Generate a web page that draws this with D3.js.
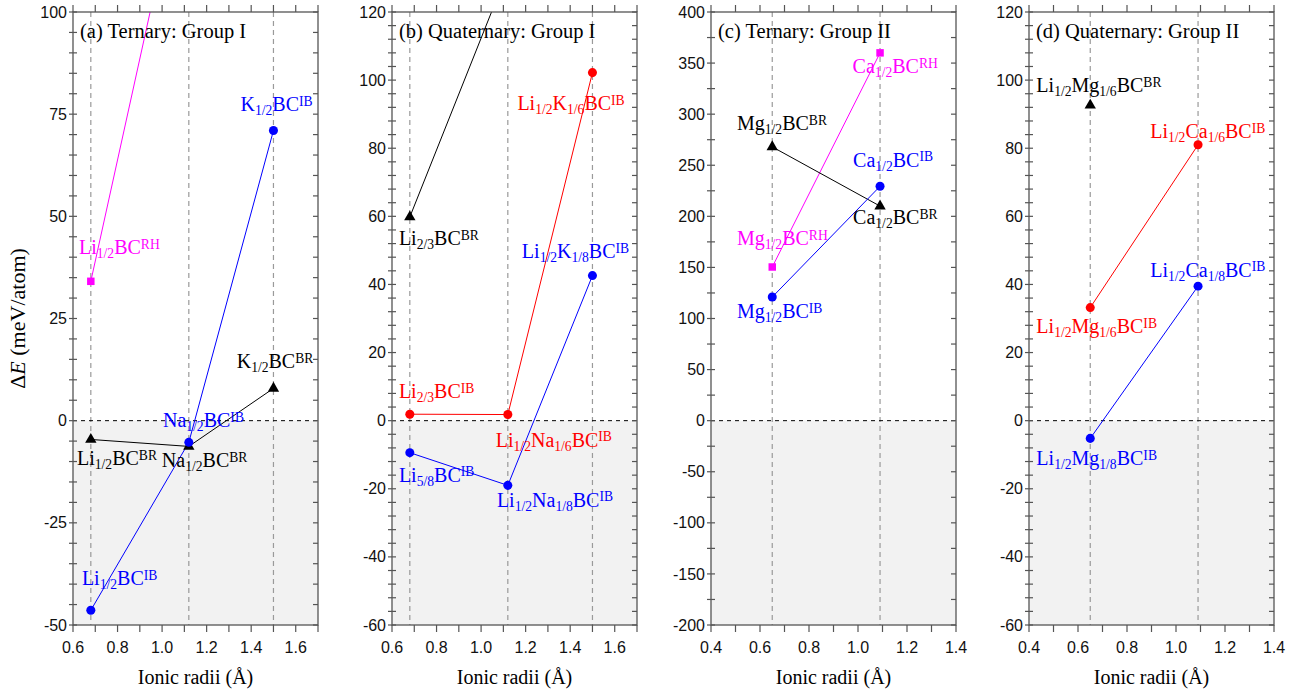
<!DOCTYPE html>
<html>
<head>
<meta charset="utf-8">
<script src="https://cdn.jsdelivr.net/npm/d3@7"></script>
<style>
  body { margin: 0; background: #fff; }
</style>
</head>
<body>
<script>
// ionic radii (Å) of the metals
var radiiGroupI = [0.68, 1.12, 1.50];   // Li, Na, K
var radiiGroupII = [0.65, 1.09];        // Mg, Ca

// (a) Ternary: Group I, formation energy difference in meV/atom (Li, Na, K)
var aIB = [-46.4, -5.3, 71.0];
var aBR = [-4.6, -6.3, 7.9];
var aRH = [34.1, 143];          // Na point is above the frame

// (b) Quaternary: Group I (Li, Na, K)
var bRed = [1.9, 1.8, 102.2];   // Li2/3BC, Li1/2Na1/6BC, Li1/2K1/6BC
var bBlue = [-9.4, -19.0, 42.6];// Li5/8BC, Li1/2Na1/8BC, Li1/2K1/8BC
var bBR = [59.8, 132];          // Na point is above the frame

// (c) Ternary: Group II (Mg, Ca)
var cRH = [150.4, 360];
var cBR = [268, 210];
var cIB = [121, 229.4];

// (d) Quaternary: Group II (Mg, Ca)
var dBR = [92.6];
var dRed = [33.2, 81.0];
var dBlue = [-5.2, 39.5];

// annotation text with anchor in data units
var aLabels = [
  ["Li_{1/2}BC^{RH}", 0.627, 40.7, "magenta"],
  ["K_{1/2}BC^{IB}", 1.352, 75.7, "blue"],
  ["K_{1/2}BC^{BR}", 1.335, 12.8, "black"],
  ["Na_{1/2}BC^{IB}", 1.004, -1.6, "blue"],
  ["Li_{1/2}BC^{BR}", 0.618, -10.9, "black"],
  ["Na_{1/2}BC^{BR}", 0.999, -11.4, "black"],
  ["Li_{1/2}BC^{IB}", 0.640, -40.3, "blue"]
];
var bLabels = [
  ["Li_{1/2}K_{1/6}BC^{IB}", 1.163, 91.1, "red"],
  ["Li_{2/3}BC^{BR}", 0.631, 51.5, "black"],
  ["Li_{1/2}K_{1/8}BC^{IB}", 1.183, 47.7, "blue"],
  ["Li_{2/3}BC^{IB}", 0.631, 6.6, "red"],
  ["Li_{1/2}Na_{1/6}BC^{IB}", 1.066, -7.7, "red"],
  ["Li_{5/8}BC^{IB}", 0.631, -18.0, "blue"],
  ["Li_{1/2}Na_{1/8}BC^{IB}", 1.071, -25.3, "blue"]
];
var cLabels = [
  ["Ca_{1/2}BC^{RH}", 0.978, 340, "magenta"],
  ["Mg_{1/2}BC^{BR}", 0.506, 284.2, "black"],
  ["Ca_{1/2}BC^{IB}", 0.980, 248.3, "blue"],
  ["Ca_{1/2}BC^{BR}", 0.980, 192.2, "black"],
  ["Mg_{1/2}BC^{RH}", 0.506, 171.7, "magenta"],
  ["Mg_{1/2}BC^{IB}", 0.506, 100.2, "blue"]
];
var dLabels = [
  ["Li_{1/2}Mg_{1/6}BC^{BR}", 0.430, 96.5, "black"],
  ["Li_{1/2}Ca_{1/6}BC^{IB}", 0.895, 83.0, "red"],
  ["Li_{1/2}Ca_{1/8}BC^{IB}", 0.895, 42.2, "blue"],
  ["Li_{1/2}Mg_{1/6}BC^{IB}", 0.430, 25.6, "red"],
  ["Li_{1/2}Mg_{1/8}BC^{IB}", 0.430, -13.1, "blue"]
];

var panels = [
  { title: "(a) Ternary: Group I", left: 73, xDom: [0.6, 1.7], yDom: [-50, 100], yMajor: 25, yMinor: 5,
    radii: radiiGroupI,
    series: [
      { y: aRH, color: "magenta", sym: "square" },
      { y: aBR, color: "black", sym: "triangle" },
      { y: aIB, color: "blue", sym: "circle" }
    ], labels: aLabels },
  { title: "(b) Quaternary: Group I", left: 392, xDom: [0.6, 1.7], yDom: [-60, 120], yMajor: 20, yMinor: 4,
    radii: radiiGroupI,
    series: [
      { y: bBR, color: "black", sym: "triangle" },
      { y: bRed, color: "red", sym: "circle" },
      { y: bBlue, color: "blue", sym: "circle" }
    ], labels: bLabels },
  { title: "(c) Ternary: Group II", left: 711, xDom: [0.4, 1.4], yDom: [-200, 400], yMajor: 50, yMinor: 25,
    radii: radiiGroupII,
    series: [
      { y: cRH, color: "magenta", sym: "square" },
      { y: cBR, color: "black", sym: "triangle" },
      { y: cIB, color: "blue", sym: "circle" }
    ], labels: cLabels },
  { title: "(d) Quaternary: Group II", left: 1029, xDom: [0.4, 1.4], yDom: [-60, 120], yMajor: 20, yMinor: 4,
    radii: radiiGroupII,
    series: [
      { y: dBR, color: "black", sym: "triangle" },
      { y: dRed, color: "red", sym: "circle" },
      { y: dBlue, color: "blue", sym: "circle" }
    ], labels: dLabels }
];

var svgWidth = 1312, svgHeight = 696;
var plotTop = 12, plotHeight = 613, plotWidth = 245;
var serif = "'Liberation Serif', 'Times New Roman', serif";
var sans = "'Liberation Sans', Arial, sans-serif";
var axisColor = "#555";

var svg = d3.select("body").append("svg")
  .attr("width", svgWidth)
  .attr("height", svgHeight);

// text with _{sub} and ^{sup} pieces
function richText(g, str, x, y, color, size) {
  var small = size * 0.68;
  var t = g.append("text")
    .attr("x", x).attr("y", y)
    .attr("fill", color)
    .style("font-family", serif)
    .style("font-size", size + "px");
  var re = /([_^])\{([^}]*)\}|([^_^]+)/g, m, shift = 0;
  while ((m = re.exec(str)) !== null) {
    if (m[3]) {
      t.append("tspan").attr("dy", -shift).style("font-size", size + "px").text(m[3]);
      shift = 0;
    } else {
      var target = m[1] === "_" ? 4 : -5.5;
      t.append("tspan").attr("dy", target - shift).style("font-size", small + "px").text(m[2]);
      shift = target;
    }
  }
  return t;
}

var symbols = { circle: d3.symbolCircle, square: d3.symbolSquare, triangle: d3.symbolTriangle };
var symSize = { circle: 64, square: 56, triangle: 56 };

panels.forEach(function(p, pi) {
  var x = d3.scaleLinear().domain(p.xDom).range([0, plotWidth]);
  var y = d3.scaleLinear().domain(p.yDom).range([plotHeight, 0]);

  var g = svg.append("g").attr("transform", `translate(${p.left}, ${plotTop})`);

  var clipId = "clip" + pi;
  g.append("clipPath").attr("id", clipId)
    .append("rect").attr("width", plotWidth).attr("height", plotHeight);

  // shaded region below zero
  g.append("rect")
    .attr("x", 0).attr("y", y(0))
    .attr("width", plotWidth).attr("height", plotHeight - y(0))
    .attr("fill", "#f2f2f2");

  // vertical guides at the ionic radii
  g.selectAll(".guide").data(p.radii).enter().append("line")
    .attr("x1", d => x(d)).attr("x2", d => x(d))
    .attr("y1", 0).attr("y2", plotHeight)
    .attr("stroke", "#9a9a9a").attr("stroke-width", 1.2)
    .attr("stroke-dasharray", "5,4");

  // zero line
  g.append("line")
    .attr("x1", 0).attr("x2", plotWidth)
    .attr("y1", y(0)).attr("y2", y(0))
    .attr("stroke", "#000").attr("stroke-width", 1)
    .attr("stroke-dasharray", "4,4");

  // series lines
  var line = d3.line().x(d => x(d[0])).y(d => y(d[1]));
  var lineLayer = g.append("g").attr("clip-path", `url(#${clipId})`);
  p.series.forEach(function(s) {
    var pts = s.y.map((v, i) => [p.radii[i], v]);
    if (pts.length > 1) {
      lineLayer.append("path").datum(pts)
        .attr("d", line)
        .attr("fill", "none")
        .attr("stroke", s.color)
        .attr("stroke-width", 1);
    }
  });

  // markers (only those inside the frame)
  p.series.forEach(function(s) {
    var pts = s.y.map((v, i) => [p.radii[i], v])
      .filter(d => d[1] >= p.yDom[0] && d[1] <= p.yDom[1]);
    g.selectAll(null).data(pts).enter().append("path")
      .attr("transform", d => `translate(${x(d[0])}, ${y(d[1])})`)
      .attr("d", d3.symbol().type(symbols[s.sym]).size(symSize[s.sym]))
      .attr("fill", s.color);
  });

  // frame
  g.append("rect")
    .attr("width", plotWidth).attr("height", plotHeight)
    .attr("fill", "none").attr("stroke", axisColor).attr("stroke-width", 1.3);

  // y ticks
  var yMinorTicks = d3.range(p.yDom[0], p.yDom[1] + 0.001, p.yMinor);
  var yMajorTicks = d3.range(p.yDom[0], p.yDom[1] + 0.001, p.yMajor);
  g.selectAll(".yt").data(yMinorTicks).enter().append("line")
    .attr("x1", -4).attr("x2", 4)
    .attr("y1", d => y(d)).attr("y2", d => y(d))
    .attr("stroke", axisColor).attr("stroke-width", 1.2);
  g.selectAll(".ytr").data(yMinorTicks).enter().append("line")
    .attr("x1", plotWidth - 5).attr("x2", plotWidth)
    .attr("y1", d => y(d)).attr("y2", d => y(d))
    .attr("stroke", axisColor).attr("stroke-width", 1.2);
  g.selectAll(".ylab").data(yMajorTicks).enter().append("text")
    .attr("x", -6).attr("y", d => y(d))
    .attr("dy", "0.35em")
    .attr("text-anchor", "end")
    .style("font-family", sans).style("font-size", "16px")
    .attr("fill", "#111")
    .text(d => d);

  // x ticks
  var xTicks = d3.range(Math.round(p.xDom[0] * 10), Math.round(p.xDom[1] * 10) + 1).map(d => d / 10);
  g.selectAll(".xt").data(xTicks).enter().append("line")
    .attr("x1", d => x(d)).attr("x2", d => x(d))
    .attr("y1", plotHeight).attr("y2", plotHeight + 7)
    .attr("stroke", axisColor).attr("stroke-width", 1.2);
  g.selectAll(".xtt").data(xTicks).enter().append("line")
    .attr("x1", d => x(d)).attr("x2", d => x(d))
    .attr("y1", 0).attr("y2", -7)
    .attr("stroke", axisColor).attr("stroke-width", 1.2);
  var xLabelTicks = xTicks.filter(d => Math.round(d * 10) % 2 === 0);
  g.selectAll(".xlab").data(xLabelTicks).enter().append("text")
    .attr("x", d => x(d)).attr("y", plotHeight + 28)
    .attr("text-anchor", "middle")
    .style("font-family", sans).style("font-size", "16px")
    .attr("fill", "#111")
    .text(d3.format(".1f"));

  // axis title
  g.append("text")
    .attr("x", plotWidth / 2).attr("y", plotHeight + 59)
    .attr("text-anchor", "middle")
    .style("font-family", serif).style("font-size", "20px")
    .text("Ionic radii (Å)");

  // panel title
  g.append("text")
    .attr("x", 7).attr("y", 26)
    .style("font-family", serif).style("font-size", "20.5px")
    .text(p.title);

  // annotations
  p.labels.forEach(function(l) {
    richText(g, l[0], x(l[1]), y(l[2]), l[3], 20);
  });
});

// y axis title
var yTitle = svg.append("text")
  .attr("transform", `translate(25, ${plotTop + plotHeight / 2}) rotate(-90)`)
  .attr("text-anchor", "middle")
  .style("font-family", serif).style("font-size", "22px");
yTitle.append("tspan").text("Δ");
yTitle.append("tspan").style("font-style", "italic").text("E");
yTitle.append("tspan").text(" (meV/atom)");
</script>
</body>
</html>
